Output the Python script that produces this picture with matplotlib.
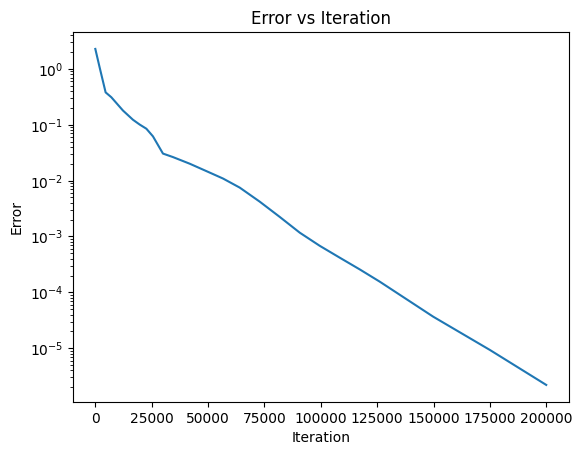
import numpy as np
import matplotlib
matplotlib.use("Agg")
from matplotlib import pyplot as plt

# values
iterations = [0, 1900, 4570, 7100, 12250, 16690, 19660, 22640, 25570, 28000,
              30000, 34440, 41850, 49270, 56640, 64050, 72930, 81800, 90680,
              99560, 108430, 117310, 126190, 149850, 175010, 200000]
errors = [2.28, 1.07, 0.38, 0.311, 0.18, 0.123, 0.101, 0.085, 0.062, 0.042,
          0.0305, 0.0264, 0.0201, 0.0148, 0.0109, 0.0075, 0.0042, 0.00224,
          0.00117, 6.8e-4, 4.17e-4, 2.57e-4, 1.55e-4, 3.67e-5, 9.3e-6, 2.2e-6]

fig, ax = plt.subplots(figsize=(6.4, 4.8), dpi=100)
ax.plot(iterations, errors)
ax.set_yscale("log")
ax.set_xlabel("Iteration")
ax.set_ylabel("Error")
ax.set_title("Error vs Iteration")

fig.savefig("out.png", bbox_inches="tight")
